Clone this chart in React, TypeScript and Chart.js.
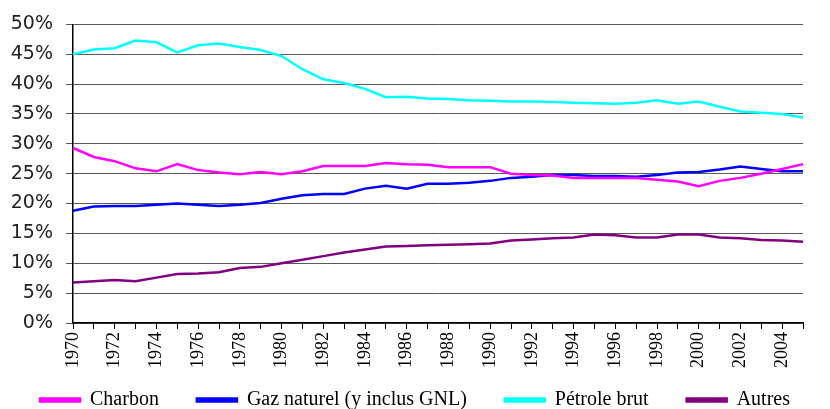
import React, { useEffect, useRef } from "react";
import { Chart, registerables } from "chart.js";

Chart.register(...registerables);

const years: string[] = [];
for (let y = 1970; y <= 2005; y++) years.push(String(y));

const charbon = [29.3, 27.8, 27.1, 25.9, 25.4, 26.6, 25.6, 25.2, 24.9, 25.3, 24.9, 25.4, 26.3, 26.3, 26.3, 26.8, 26.6, 26.5, 26.1, 26.1, 26.1, 25.0, 24.8, 24.7, 24.3, 24.3, 24.3, 24.3, 24.0, 23.7, 22.9, 23.8, 24.3, 25.0, 25.8, 26.6];
const gaz = [18.8, 19.5, 19.6, 19.6, 19.8, 20.0, 19.8, 19.6, 19.8, 20.1, 20.8, 21.4, 21.6, 21.6, 22.5, 23.0, 22.5, 23.3, 23.3, 23.5, 23.8, 24.3, 24.5, 24.8, 24.8, 24.6, 24.6, 24.5, 24.8, 25.2, 25.3, 25.7, 26.2, 25.8, 25.4, 25.4];
const petrole = [45.0, 45.8, 46.0, 47.3, 47.0, 45.3, 46.5, 46.8, 46.2, 45.7, 44.7, 42.5, 40.8, 40.2, 39.2, 37.8, 37.9, 37.6, 37.5, 37.3, 37.2, 37.1, 37.1, 37.0, 36.9, 36.8, 36.7, 36.9, 37.3, 36.7, 37.1, 36.2, 35.4, 35.2, 35.0, 34.4];
const autres = [6.8, 7.0, 7.2, 7.0, 7.6, 8.2, 8.3, 8.5, 9.2, 9.4, 10.0, 10.6, 11.2, 11.8, 12.3, 12.8, 12.9, 13.0, 13.1, 13.2, 13.3, 13.8, 14.0, 14.2, 14.3, 14.8, 14.7, 14.3, 14.3, 14.8, 14.8, 14.3, 14.2, 13.9, 13.8, 13.6];

const seriesNames = ["Charbon", "Gaz naturel (y inclus GNL)", "Pétrole brut", "Autres"];
const seriesColors = ["#FF00FF", "#0000FF", "#00FFFF", "#800080"];
const yTicks = [0, 5, 10, 15, 20, 25, 30, 35, 40, 45, 50];

const extendXLabelArea = {
  id: "extendXLabelArea",
  afterLayout(chart: any) {
    const s = chart.scales.x;
    if (s) {
      s.bottom = chart.height;
      s.height = s.bottom - s.top;
    }
  },
};

export default function App() {
  const ref = useRef<HTMLCanvasElement | null>(null);

  useEffect(() => {
    if (!ref.current) return;
    const data = [charbon, gaz, petrole, autres];
    const chart = new Chart(ref.current, {
      type: "line",
      plugins: [extendXLabelArea],
      data: {
        labels: years,
        datasets: data.map((d, i) => ({
          label: seriesNames[i],
          data: d,
          borderColor: seriesColors[i],
          backgroundColor: seriesColors[i],
          borderWidth: 2.5,
          pointRadius: 0,
          tension: 0,
          fill: false,
        })),
      },
      options: {
        animation: false,
        responsive: true,
        maintainAspectRatio: false,
        layout: { padding: { top: 12, right: 0, left: 0, bottom: -11 } },
        plugins: {
          tooltip: { enabled: false },
          legend: {
            position: "bottom",
            labels: {
              boxWidth: 40,
              boxHeight: 3,
              padding: 38,
              color: "#000",
              font: { family: "Liberation Serif", size: 20, lineHeight: 1 },
            },
          },
        },
        scales: {
          x: {
            type: "category",
            offset: false,
            afterFit: (s: any) => {
              s.height = 29;
            },
            grid: {
              drawOnChartArea: false,
              drawTicks: true,
              tickLength: 6,
              color: "#000",
            },
            border: { color: "#000", width: 1.5 },
            ticks: {
              autoSkip: false,
              minRotation: 90,
              maxRotation: 90,
              padding: 3,
              color: "#000",
              font: { family: "Liberation Serif", size: 18 },
              callback: (_v: any, i: number) => (i % 2 === 0 ? years[i] : ""),
            },
          },
          y: {
            min: 0,
            max: 50,
            afterFit: (s: any) => {
              s.width = 73;
            },
            afterBuildTicks: (s: any) => {
              s.ticks = yTicks.map((v) => ({ value: v }));
            },
            grid: {
              color: "#5a5a5a",
              lineWidth: 1,
              tickLength: 7,
            },
            border: { color: "#000", width: 1.5 },
            ticks: {
              autoSkip: false,
              padding: 13,
              color: "#222",
              font: { family: "DejaVu Sans", size: 19 },
              callback: (v: any) => v + "%",
            },
          },
          yRight: {
            position: "right",
            display: true,
            afterFit: (s: any) => {
              s.width = 27;
            },
            grid: { display: false },
            border: { display: false },
            ticks: { display: false },
          },
        },
      },
    });
    return () => chart.destroy();
  }, []);

  return (
    <div style={{ position: "absolute", left: 0, top: 0, width: 830, height: 409, background: "#fff" }}>
      <canvas ref={ref} />
    </div>
  );
}
